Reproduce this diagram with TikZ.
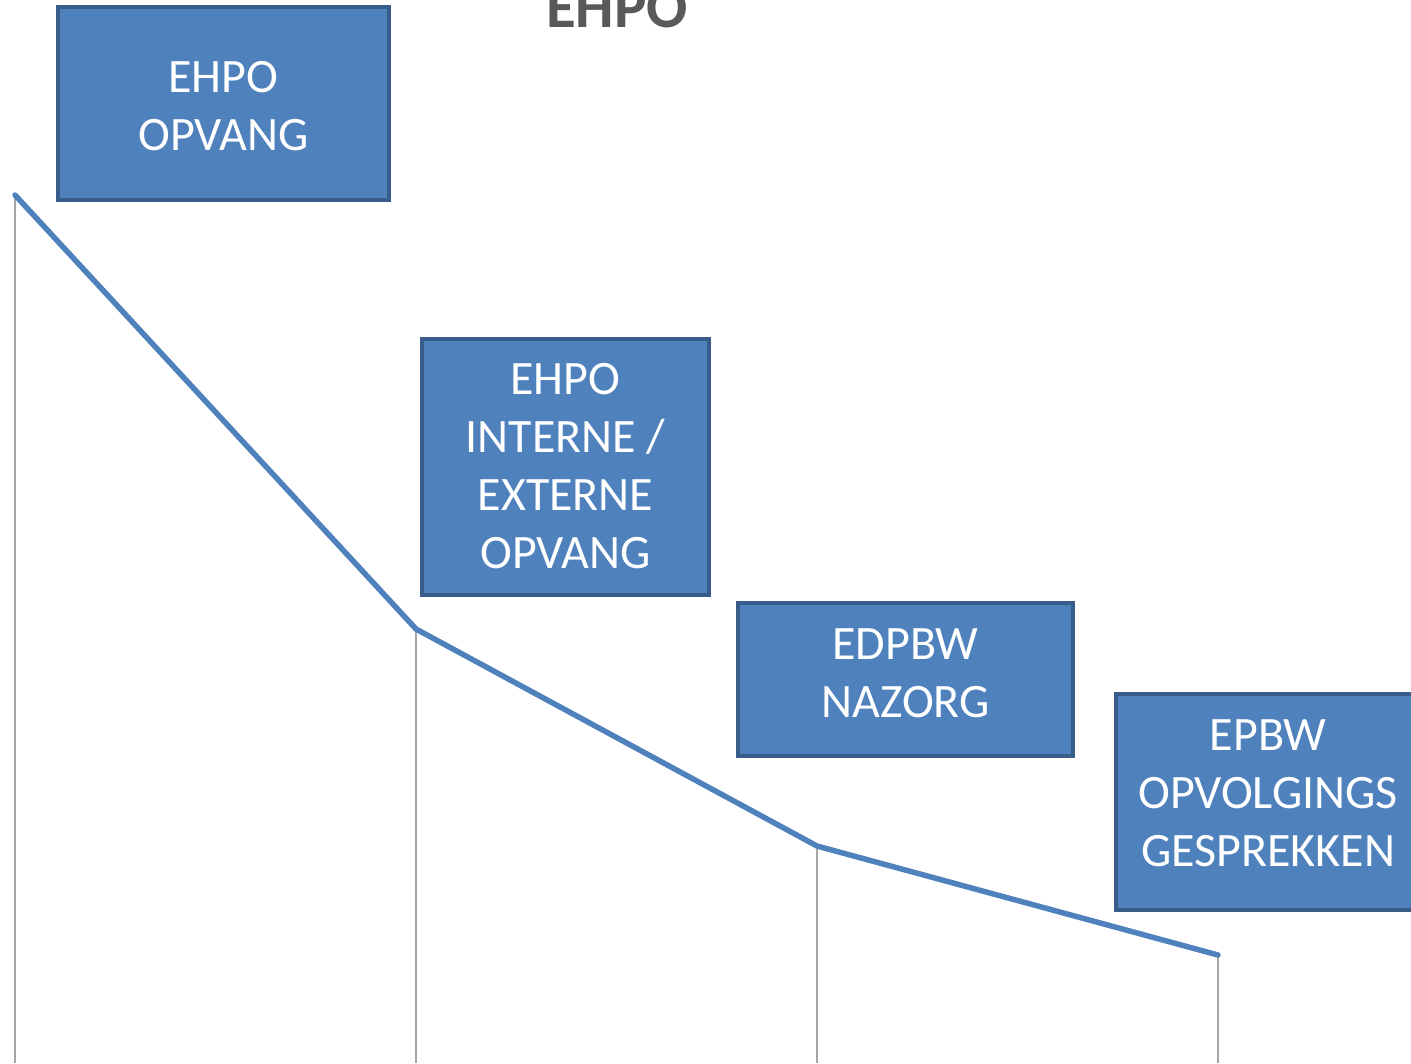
\documentclass[tikz,border=0pt]{standalone}
\usepackage{fontspec}
\setmainfont{Carlito}
\definecolor{boxfill}{RGB}{79,129,189}
\definecolor{boxline}{RGB}{56,93,138}
\definecolor{vgray}{RGB}{166,166,166}
\definecolor{titlegray}{RGB}{89,89,89}
\begin{document}
\begin{tikzpicture}[x=1pt,y=-1pt,
  stage/.style={draw=boxline,fill=boxfill,line width=3.5pt,inner sep=0pt},
  stagetext/.style={inner sep=0pt,text=white,align=center,font=\fontsize{48}{58}\selectfont},
  curve/.style={draw=boxfill,line width=5.5pt,line join=round,line cap=round},
  drop/.style={draw=vgray,line width=2.5pt}]
\useasboundingbox[fill=white] (0,0) rectangle (1411,1063);
% vertices
\coordinate (p1) at (15,195);
\coordinate (p2) at (416,629);
\coordinate (p3) at (817,846);
\coordinate (p4) at (1218,955);
\coordinate (b1) at (15,1063);
\coordinate (b2) at (416,1063);
\coordinate (b3) at (817,1063);
\coordinate (b4) at (1218,1063);
\draw[drop] (p1) -- (b1);
\draw[drop] (p2) -- (b2);
\draw[drop] (p3) -- (b3);
\draw[drop] (p4) -- (b4);
\draw[curve] (p1) -- (p2) -- (p3) -- (p4);
% boxes
\node[stage,minimum width=331pt,minimum height=193pt] (s1) at (223.5,103.5) {};
\node[stagetext] (t1) at (223.5,106) {EHPO\\OPVANG};
\node[stage,minimum width=287pt,minimum height=256pt] (s2) at (565.5,467) {};
\node[stagetext] (t2) at (565.5,466) {EHPO\\INTERNE /\\EXTERNE\\OPVANG};
\node[stage,minimum width=335pt,minimum height=153pt] (s3) at (905.5,679.5) {};
\node[stagetext] (t3) at (905.5,673.5) {EDPBW\\NAZORG};
\node[stage,minimum width=304pt,minimum height=216pt] (s4) at (1268,802) {};
\node[stagetext] (t4) at (1268,793) {EPBW\\OPVOLGINGS\\GESPREKKEN};
% title
\node[anchor=base,text=titlegray,font=\bfseries\fontsize{61}{72}\selectfont,inner sep=0pt] (title) at (617,27) {EHPO};
\end{tikzpicture}
\end{document}
